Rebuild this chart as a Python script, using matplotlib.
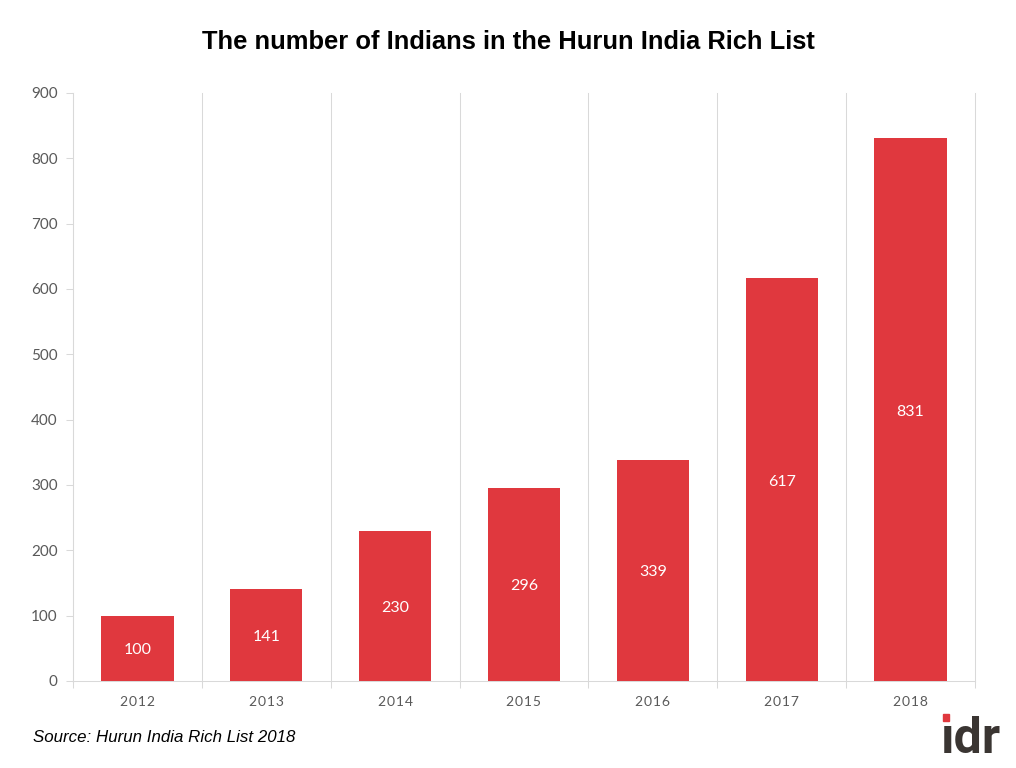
import matplotlib.pyplot as plt
from matplotlib.patches import Rectangle
import numpy as np

years = ['2012', '2013', '2014', '2015', '2016', '2017', '2018']
counts = [100, 141, 230, 296, 339, 617, 831]
yticks = [0, 100, 200, 300, 400, 500, 600, 700, 800, 900]

RED = '#e0383e'
GRID = '#d9d9d9'
TICK = '#595959'

fig = plt.figure(figsize=(10.16, 7.68), dpi=100)
# axes box in pixels: x 73-975, y 93-681
ax = fig.add_axes([73 / 1016, 1 - 681 / 768, 902 / 1016, 588 / 768])

pos = np.arange(len(years))
bars = ax.bar(pos, counts, width=0.56, color=RED, zorder=3)
for x, v in zip(pos, counts):
    ax.annotate(str(v), (x, v / 2), xytext=(0, -1.5), textcoords='offset points',
                color='white', ha='center', va='center',
                fontsize=11.5, family='Lato', zorder=4)

ax.set_xlim(-0.5, len(years) - 0.5)
ax.set_ylim(0, 900)
ax.set_yticks(yticks)
ax.set_xticks(np.arange(len(years) + 1) - 0.5)
ax.set_xticklabels([])
ax.set_xticks(pos, minor=True)
# hair spaces for the wide letter spacing of the year labels
spaced_years = ['\u200a'.join(y) for y in years]
ax.set_xticklabels(spaced_years, minor=True, family=['Lato', 'DejaVu Sans'], fontsize=10, color=TICK)
ax.tick_params(axis='x', which='minor', length=0, pad=11)
ax.tick_params(axis='x', which='major', length=5, width=0.75, color=GRID)
ax.tick_params(axis='y', length=5, width=0.75, color=GRID, labelcolor=TICK, pad=6)
for lab in ax.get_yticklabels():
    lab.set_family('Lato')
    lab.set_fontsize(11)

ax.grid(axis='x', which='major', color=GRID, linewidth=0.75, zorder=0, clip_on=False)
for side in ['top', 'right']:
    ax.spines[side].set_visible(False)
for side in ['left', 'bottom']:
    ax.spines[side].set_color(GRID)
    ax.spines[side].set_linewidth(0.75)

fig.text(508 / 1016, 1 - 42 / 768, 'The number of Indians in the Hurun India Rich List',
         ha='center', va='center', fontsize=18.4, fontweight='bold',
         family='Liberation Sans', color='black')
fig.text(33 / 1016, 1 - 737 / 768, 'Source: Hurun India Rich List 2018',
         ha='left', va='center', fontsize=12.2, style='italic',
         family='Liberation Sans', color='black')

# logo
fig.text(941 / 1016, 1 - 753 / 768, '\u0131dr', ha='left', va='baseline', fontsize=36,
         fontweight='bold', family='Roboto', color='#3a3532')
fig.patches.append(Rectangle((943 / 1016, 1 - 721 / 768), 6 / 1016, 7 / 768, color=RED,
                             transform=fig.transFigure))

fig.savefig('out.png', dpi=100)
